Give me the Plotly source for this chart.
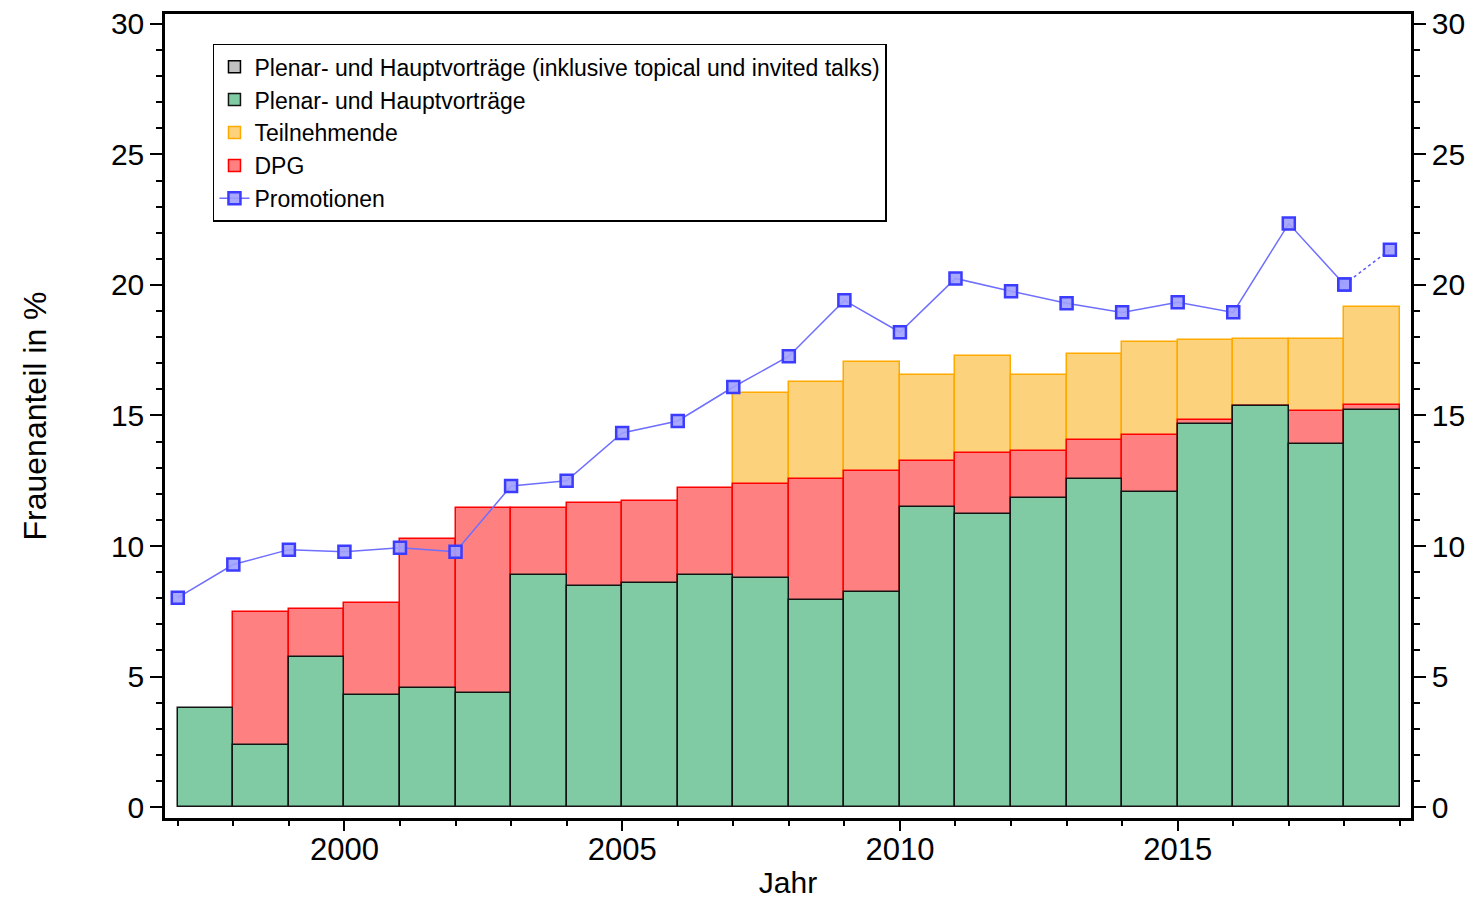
import plotly.graph_objects as go

# ---- data ----
years = list(range(1997, 2019))

plenar = [3.78, 2.37, 5.73, 4.28, 4.55, 4.36, 8.87, 8.45, 8.60, 8.87, 8.79,
          7.95, 8.25, 11.50, 11.23, 11.85, 12.57, 12.08, 14.67, 15.36, 13.91, 15.21]

dpg = [None, 7.49, 7.57, 7.83, 10.28, 11.46, 11.46, 11.65, 11.73, 12.23, 12.38,
       12.57, 12.88, 13.26, 13.56, 13.64, 14.06, 14.25, 14.83, 15.36, 15.17, 15.40]

teilnehmende = [None, None, None, None, None, None, None, None, None, None, 15.86,
                16.28, 17.04, 16.55, 17.27, 16.55, 17.35, 17.81, 17.88, 17.92, 17.92, 19.14]

promo_years = list(range(1997, 2019))
promotionen = [8.02, 9.29, 9.86, 9.78, 9.93, 9.78, 12.30, 12.50, 14.33, 14.79, 16.09,
               17.27, 19.41, 18.19, 20.25, 19.76, 19.30, 18.95, 19.34, 18.95, 22.35, 20.02]
promo_extra_year = 2018.82
promo_extra_val = 21.35

names = ["Plenar- und Hauptvorträge (inklusive topical und invited talks)",
         "Plenar- und Hauptvorträge", "Teilnehmende", "DPG", "Promotionen"]

FONT = "Liberation Sans, Arial, Helvetica, sans-serif"

fig = go.Figure()

# legend-only gray series (no visible data)
fig.add_trace(go.Bar(x=[None], y=[None], name=names[0],
                     marker=dict(color="rgb(192,192,192)", line=dict(color="black", width=1.5)),
                     legendrank=1))

fig.add_trace(go.Bar(x=years, y=teilnehmende, width=1, offset=0, name=names[2],
                     marker=dict(color="rgb(252,210,124)", line=dict(color="rgb(255,170,0)", width=1.5)),
                     legendrank=3))
fig.add_trace(go.Bar(x=years, y=dpg, width=1, offset=0, name=names[3],
                     marker=dict(color="rgb(255,128,128)", line=dict(color="rgb(255,0,0)", width=1.5)),
                     legendrank=4))
fig.add_trace(go.Bar(x=years, y=plenar, width=1, offset=0, name=names[1],
                     marker=dict(color="rgb(128,203,164)", line=dict(color="rgb(20,20,20)", width=1.5)),
                     legendrank=2))

marker_style = dict(symbol="square", size=12, color="rgba(160,160,255,0.9)",
                    line=dict(color="rgb(60,60,255)", width=2.5))

fig.add_trace(go.Scatter(x=[promo_years[-1], promo_extra_year], y=[promotionen[-1], promo_extra_val],
                         mode="lines+markers", line=dict(color="rgb(90,90,255)", width=1.5, dash="dot"),
                         marker=marker_style, showlegend=False))
fig.add_trace(go.Scatter(x=promo_years, y=promotionen, mode="lines+markers", name=names[4],
                         line=dict(color="rgb(110,110,255)", width=1.5),
                         marker=marker_style, legendrank=5))

# invisible trace to anchor right axis
fig.add_trace(go.Scatter(x=[None], y=[None], yaxis="y2", showlegend=False, hoverinfo="skip"))

yrange = [-0.42, 30.38]

# the page body adds an 8px offset; the figure is sized/margined to compensate
fig.update_layout(
    width=1470, height=891,
    margin=dict(l=157, r=67, t=6, b=81),
    paper_bgcolor="white", plot_bgcolor="white",
    barmode="overlay",
    bargap=0,
    font=dict(family=FONT, color="black"),
    showlegend=True,
    legend=dict(x=0.0385, y=0.963, xanchor="left", yanchor="top",
                bordercolor="black", borderwidth=1.5, bgcolor="white",
                font=dict(size=23, family=FONT), traceorder="normal",
                itemwidth=30),
    xaxis=dict(range=[1996.77, 2019.2], tick0=2000, dtick=5, ticks="outside", ticklen=10,
               tickwidth=2, tickcolor="black", showline=True, linecolor="black", linewidth=2.5,
               mirror=True, showgrid=False, zeroline=False, automargin=False,
               tickfont=dict(size=31, family=FONT), ticklabelstandoff=-8, ticklabeloverflow="allow",
               minor=dict(dtick=1, tick0=2000, ticks="outside", ticklen=5, tickwidth=2, tickcolor="black"),
               title=dict(text="Jahr", font=dict(size=30, family=FONT), standoff=7)),
    yaxis=dict(range=yrange, tick0=0, dtick=5, ticks="outside", ticklen=12, tickwidth=2,
               tickcolor="black", showline=True, linecolor="black", linewidth=2.5, mirror=True,
               showgrid=False, zeroline=False, automargin=False, tickfont=dict(size=30, family=FONT),
               ticklabeloverflow="allow",
               minor=dict(dtick=1, tick0=0, ticks="outside", ticklen=6, tickwidth=2, tickcolor="black"),
               title=dict(text="Frauenanteil in %", font=dict(size=32, family=FONT), standoff=55)),
    yaxis2=dict(range=yrange, overlaying="y", side="right", tick0=0, dtick=5, ticks="outside",
                ticklen=12, tickwidth=2, tickcolor="black", showline=True, linecolor="black",
                linewidth=2.5, showgrid=False, zeroline=False, automargin=False,
                tickfont=dict(size=30, family=FONT), ticklabeloverflow="allow",
                minor=dict(dtick=1, tick0=0, ticks="outside", ticklen=6, tickwidth=2, tickcolor="black")),
)

fig.write_html("out.html")
